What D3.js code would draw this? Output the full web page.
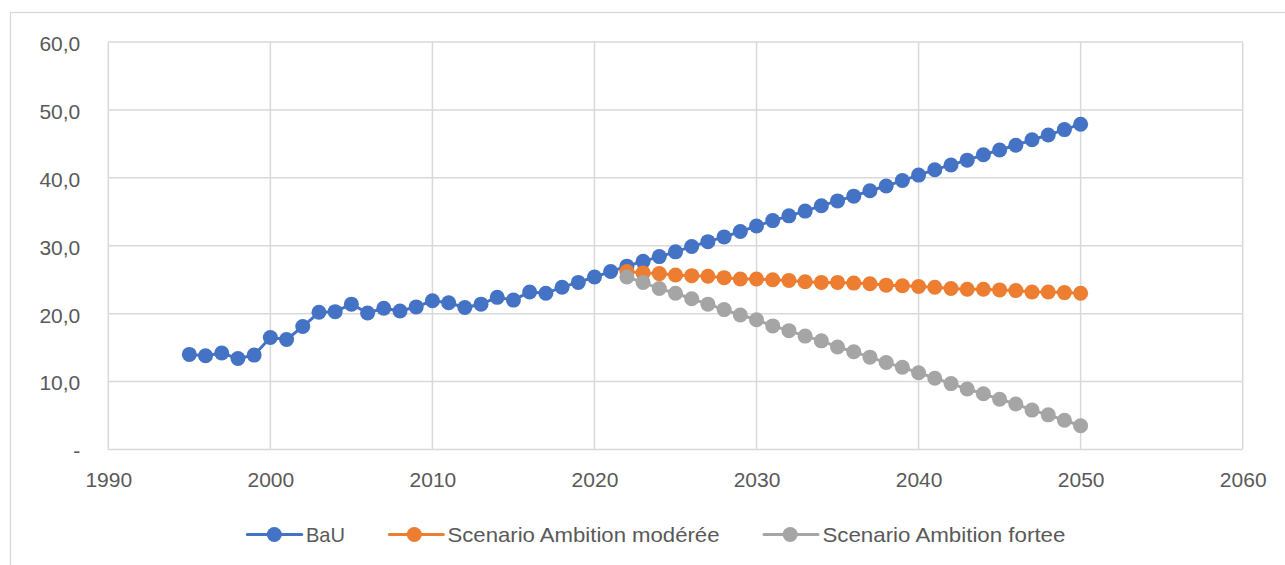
<!DOCTYPE html>
<html>
<head>
<meta charset="utf-8">
<script src="https://cdn.jsdelivr.net/npm/d3@7"></script>
<style>
  html, body { margin: 0; padding: 0; background: #fff; }
  svg { display: block; }
  text { font-family: "Liberation Sans", Arial, sans-serif; fill: #595959; }
</style>
</head>
<body>
<svg id="chart" width="1285" height="565"></svg>
<script>
// ---- data ----
const bauStart = 1995;
const bauValues = [14.0,13.8,14.2,13.4,13.9,16.5,16.2,18.1,20.2,20.3,
                   21.4,20.1,20.8,20.4,21.0,21.9,21.6,20.9,21.4,22.4,
                   22.0,23.2,23.0,23.9,24.6,25.4,26.2,27.0,27.7,28.4,
                   29.1,29.9,30.6,31.3,32.1,32.9,33.7,34.4,35.1,35.9,
                   36.6,37.3,38.1,38.8,39.6,40.4,41.2,41.9,42.6,43.4,
                   44.1,44.8,45.6,46.3,47.1,47.9];
const scenStart = 2022;
const moderateValues = [26.2,26.0,25.9,25.7,25.6,25.5,25.3,25.1,25.1,25.0,
                        24.9,24.7,24.6,24.6,24.5,24.4,24.2,24.1,24.0,23.9,
                        23.7,23.6,23.6,23.5,23.4,23.2,23.2,23.1,23.0];
const strongValues = [25.4,24.6,23.7,23.0,22.2,21.4,20.6,19.8,19.1,18.2,
                      17.5,16.7,16.0,15.1,14.4,13.6,12.8,12.1,11.3,10.5,
                      9.7,8.9,8.2,7.4,6.7,5.8,5.1,4.3,3.5];
const seriesNames = ["BaU", "Scenario Ambition modérée", "Scenario Ambition fortee"];
const xTicks = [1990,2000,2010,2020,2030,2040,2050,2060];
const yTicks = [0,10,20,30,40,50,60];

// ---- layout ----
const colors = ["#4472C4", "#ED7D31", "#A5A5A5"];
const plot = {left: 108.3, right: 1242.7, top: 42, bottom: 449.5};
const svg = d3.select("#chart");

const x = d3.scaleLinear().domain([1990, 2060]).range([plot.left, plot.right]);
const y = d3.scaleLinear().domain([0, 60]).range([plot.bottom, plot.top]);

// outer chart border
svg.append("rect").attr("x", 10.5).attr("y", 12.5).attr("width", 1400).attr("height", 800)
  .attr("fill", "none").attr("stroke", "#D9D9D9").attr("stroke-width", 1.3);

// gridlines
const grid = svg.append("g");
grid.selectAll("line.h").data(yTicks).join("line")
  .attr("x1", plot.left).attr("x2", plot.right)
  .attr("y1", d => y(d)).attr("y2", d => y(d))
  .attr("stroke", "#D9D9D9").attr("stroke-width", 1.5);
grid.selectAll("line.v").data(xTicks).join("line")
  .attr("y1", plot.top).attr("y2", plot.bottom)
  .attr("x1", d => x(d)).attr("x2", d => x(d))
  .attr("stroke", "#D9D9D9").attr("stroke-width", 1.5);

// axes labels via d3 axes
const fmt = d => d === 0 ? "-" : d3.format(".1f")(d).replace(".", ",");
const yAxis = svg.append("g").attr("transform", `translate(${plot.left - 28},0)`)
  .call(d3.axisLeft(y).tickValues(yTicks).tickFormat(fmt).tickSize(0).tickPadding(0));
yAxis.select(".domain").remove();
yAxis.selectAll("text").attr("font-size", 21).attr("fill", "#595959")
  .attr("font-family", "Liberation Sans, Arial, sans-serif")
  .attr("dy", "0.4em");

const xAxis = svg.append("g").attr("transform", `translate(0,${plot.bottom})`)
  .call(d3.axisBottom(x).tickValues(xTicks).tickFormat(d3.format("d")).tickSize(0).tickPadding(23));
xAxis.select(".domain").remove();
xAxis.selectAll("text").attr("font-size", 21).attr("fill", "#595959")
  .attr("font-family", "Liberation Sans, Arial, sans-serif");

// series
const series = [
  bauValues.map((v, i) => ({year: bauStart + i, value: v})),
  moderateValues.map((v, i) => ({year: scenStart + i, value: v})),
  strongValues.map((v, i) => ({year: scenStart + i, value: v}))
];
const line = d3.line().x(d => x(d.year)).y(d => y(d.value));
series.forEach((data, k) => {
  const g = svg.append("g");
  g.append("path").datum(data).attr("d", line)
    .attr("fill", "none").attr("stroke", colors[k]).attr("stroke-width", 3)
    .attr("stroke-linejoin", "round");
  g.selectAll("circle").data(data).join("circle")
    .attr("cx", d => x(d.year)).attr("cy", d => y(d.value)).attr("r", 7.5)
    .attr("fill", colors[k]);
});

// legend
const legendY = 534.5;
const legendItems = [
  {lx1: 247.3, lx2: 301.7, cx: 274.3, tx: 306, tw: 39},
  {lx1: 389.3, lx2: 443.3, cx: 414.3, tx: 447.5, tw: 272},
  {lx1: 764, lx2: 818, cx: 790.2, tx: 822.4, tw: 243}
];
const legend = svg.append("g");
legendItems.forEach((it, k) => {
  legend.append("line").attr("x1", it.lx1).attr("x2", it.lx2)
    .attr("y1", legendY).attr("y2", legendY)
    .attr("stroke", colors[k]).attr("stroke-width", 3).attr("stroke-linecap", "round");
  legend.append("circle").attr("cx", it.cx).attr("cy", legendY).attr("r", 7.5).attr("fill", colors[k]);
  legend.append("text").attr("x", it.tx).attr("y", legendY + 7.3)
    .attr("font-size", 21)
    .attr("textLength", it.tw).attr("lengthAdjust", "spacingAndGlyphs")
    .text(seriesNames[k]);
});
</script>
</body>
</html>
